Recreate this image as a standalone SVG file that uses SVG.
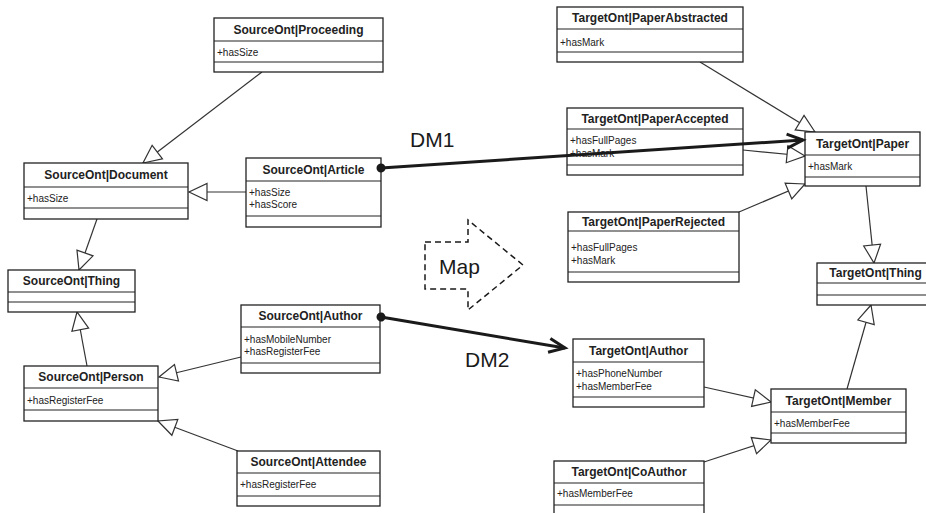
<svg xmlns="http://www.w3.org/2000/svg" width="926" height="513" viewBox="0 0 926 513">
<style>
.box{fill:#fff;stroke:#222;stroke-width:1.3}
.sep{stroke:#222;stroke-width:1.2}
.ttl{font-family:"Liberation Sans",Arial,sans-serif;font-weight:bold;font-size:12px;fill:#222;text-anchor:middle}
.att{font-family:"Liberation Sans",Arial,sans-serif;font-size:10px;fill:#222}
.gen{fill:none;stroke:#333;stroke-width:1.2;marker-end:url(#tri)}
.dm{fill:none;stroke:#1a1a1a;stroke-width:3;marker-start:url(#dot);marker-end:url(#vee)}
.lbl{font-family:"Liberation Sans",Arial,sans-serif;font-size:21px;fill:#1a1a1a}
</style>
<defs>
<marker id="tri" markerUnits="userSpaceOnUse" markerWidth="20" markerHeight="20" refX="0" refY="0" orient="auto" overflow="visible">
<path d="M0,0 L-18,-8.5 L-18,8.5 Z" fill="#fff" stroke="#333" stroke-width="1.2"/>
</marker>
<marker id="vee" markerUnits="userSpaceOnUse" markerWidth="20" markerHeight="20" refX="0" refY="0" orient="auto" overflow="visible">
<path d="M-16,-7 L0,0 L-16,7" fill="none" stroke="#1a1a1a" stroke-width="3"/>
</marker>
<marker id="dot" markerUnits="userSpaceOnUse" markerWidth="12" markerHeight="12" refX="0" refY="0" orient="auto" overflow="visible">
<circle cx="0" cy="0" r="4.5" fill="#1a1a1a"/>
</marker>
</defs>

<g id="connectors">
<path class="gen" d="M262,72 L143,163"/>
<path class="gen" d="M246,192 L189,192"/>
<path class="gen" d="M97,219 L79,270"/>
<path class="gen" d="M87,366 L77,312"/>
<path class="gen" d="M241,357 L159,377"/>
<path class="gen" d="M238,451 L158,421"/>
<path class="gen" d="M700,62 L815,132"/>
<path class="gen" d="M743,150 L805,156"/>
<path class="gen" d="M739,212 L805,184"/>
<path class="gen" d="M866,186 L874,263"/>
<path class="gen" d="M847,389 L871,305"/>
<path class="gen" d="M704,387 L771,402"/>
<path class="gen" d="M704,462 L771,440"/>
</g>

<g id="s_proceeding">
<rect class="box" x="214" y="18" width="169" height="54"/>
<line class="sep" x1="214" y1="41" x2="383" y2="41"/><line class="sep" x1="214" y1="62" x2="383" y2="62"/>
<text class="ttl" x="298.5" y="33.5">SourceOnt|Proceeding</text>
<text class="att" x="217" y="55.5">+hasSize</text>
</g>
<g id="s_document">
<rect class="box" x="24" y="163" width="164" height="56"/>
<line class="sep" x1="24" y1="187" x2="188" y2="187"/><line class="sep" x1="24" y1="208" x2="188" y2="208"/>
<text class="ttl" x="106" y="179">SourceOnt|Document</text>
<text class="att" x="27" y="201.5">+hasSize</text>
</g>
<g id="s_article">
<rect class="box" x="246" y="158" width="135" height="69"/>
<line class="sep" x1="246" y1="181" x2="381" y2="181"/><line class="sep" x1="246" y1="216" x2="381" y2="216"/>
<text class="ttl" x="313.5" y="173.5">SourceOnt|Article</text>
<text class="att" x="249" y="195.5">+hasSize</text>
<text class="att" x="249" y="207.5">+hasScore</text>
</g>
<g id="s_thing">
<rect class="box" x="8" y="270" width="127" height="42"/>
<line class="sep" x1="8" y1="292" x2="135" y2="292"/><line class="sep" x1="8" y1="302" x2="135" y2="302"/>
<text class="ttl" x="71.5" y="285">SourceOnt|Thing</text>
</g>
<g id="s_person">
<rect class="box" x="24" y="366" width="134" height="55"/>
<line class="sep" x1="24" y1="388" x2="158" y2="388"/><line class="sep" x1="24" y1="410" x2="158" y2="410"/>
<text class="ttl" x="91" y="381">SourceOnt|Person</text>
<text class="att" x="27" y="403.5">+hasRegisterFee</text>
</g>
<g id="s_author">
<rect class="box" x="241" y="305" width="139" height="68"/>
<line class="sep" x1="241" y1="327" x2="380" y2="327"/><line class="sep" x1="241" y1="363" x2="380" y2="363"/>
<text class="ttl" x="310.5" y="320">SourceOnt|Author</text>
<text class="att" x="244" y="342.5">+hasMobileNumber</text>
<text class="att" x="244" y="354.5">+hasRegisterFee</text>
</g>
<g id="s_attendee">
<rect class="box" x="237" y="451" width="143" height="55"/>
<line class="sep" x1="237" y1="473" x2="380" y2="473"/><line class="sep" x1="237" y1="496" x2="380" y2="496"/>
<text class="ttl" x="308.5" y="466">SourceOnt|Attendee</text>
<text class="att" x="240" y="487.5">+hasRegisterFee</text>
</g>

<g id="t_paperabstracted">
<rect class="box" x="557" y="7" width="186" height="55"/>
<line class="sep" x1="557" y1="29" x2="743" y2="29"/><line class="sep" x1="557" y1="52" x2="743" y2="52"/>
<text class="ttl" x="650" y="22">TargetOnt|PaperAbstracted</text>
<text class="att" x="560" y="45.5">+hasMark</text>
</g>
<g id="t_paperaccepted">
<rect class="box" x="567" y="108" width="176" height="67"/>
<line class="sep" x1="567" y1="129" x2="743" y2="129"/><line class="sep" x1="567" y1="165" x2="743" y2="165"/>
<text class="ttl" x="655" y="122.5">TargetOnt|PaperAccepted</text>
<text class="att" x="570" y="144">+hasFullPages</text>
<text class="att" x="570" y="157">+hasMark</text>
</g>
<g id="t_paper">
<rect class="box" x="805" y="132" width="115" height="54"/>
<line class="sep" x1="805" y1="155" x2="920" y2="155"/><line class="sep" x1="805" y1="177" x2="920" y2="177"/>
<text class="ttl" x="862.5" y="147.5">TargetOnt|Paper</text>
<text class="att" x="808" y="169.5">+hasMark</text>
</g>
<g id="t_paperrejected">
<rect class="box" x="568" y="212" width="171" height="70"/>
<line class="sep" x1="568" y1="231" x2="739" y2="231"/><line class="sep" x1="568" y1="272" x2="739" y2="272"/>
<text class="ttl" x="653.5" y="225.5">TargetOnt|PaperRejected</text>
<text class="att" x="571" y="250.5">+hasFullPages</text>
<text class="att" x="571" y="263.5">+hasMark</text>
</g>
<g id="t_thing">
<rect class="box" x="817" y="263" width="117" height="42"/>
<line class="sep" x1="817" y1="283" x2="934" y2="283"/><line class="sep" x1="817" y1="295" x2="934" y2="295"/>
<text class="ttl" x="875.5" y="277">TargetOnt|Thing</text>
</g>
<g id="t_author">
<rect class="box" x="573" y="339" width="131" height="68"/>
<line class="sep" x1="573" y1="362" x2="704" y2="362"/><line class="sep" x1="573" y1="397" x2="704" y2="397"/>
<text class="ttl" x="638.5" y="354.5">TargetOnt|Author</text>
<text class="att" x="576" y="376.5">+hasPhoneNumber</text>
<text class="att" x="576" y="389.5">+hasMemberFee</text>
</g>
<g id="t_member">
<rect class="box" x="771" y="389" width="135" height="54"/>
<line class="sep" x1="771" y1="412" x2="906" y2="412"/><line class="sep" x1="771" y1="433" x2="906" y2="433"/>
<text class="ttl" x="838.5" y="404.5">TargetOnt|Member</text>
<text class="att" x="774" y="426.5">+hasMemberFee</text>
</g>
<g id="t_coauthor">
<rect class="box" x="554" y="461" width="150" height="60"/>
<line class="sep" x1="554" y1="483" x2="704" y2="483"/><line class="sep" x1="554" y1="505" x2="704" y2="505"/>
<text class="ttl" x="629" y="476">TargetOnt|CoAuthor</text>
<text class="att" x="557" y="497">+hasMemberFee</text>
</g>

<g id="map">
<polygon points="425,242 468,242 468,220 523,265 468,310 468,289 425,289" fill="none" stroke="#1a1a1a" stroke-width="1.5" stroke-dasharray="6,4"/>
<text class="lbl" x="439" y="274" font-size="22">Map</text>
</g>

<g id="mappings">
<path class="dm" d="M381,168 L803,140"/>
<path class="dm" d="M381,317 L565,348"/>
<text class="lbl" x="410" y="147">DM1</text>
<text class="lbl" x="465" y="367">DM2</text>
</g>
</svg>
